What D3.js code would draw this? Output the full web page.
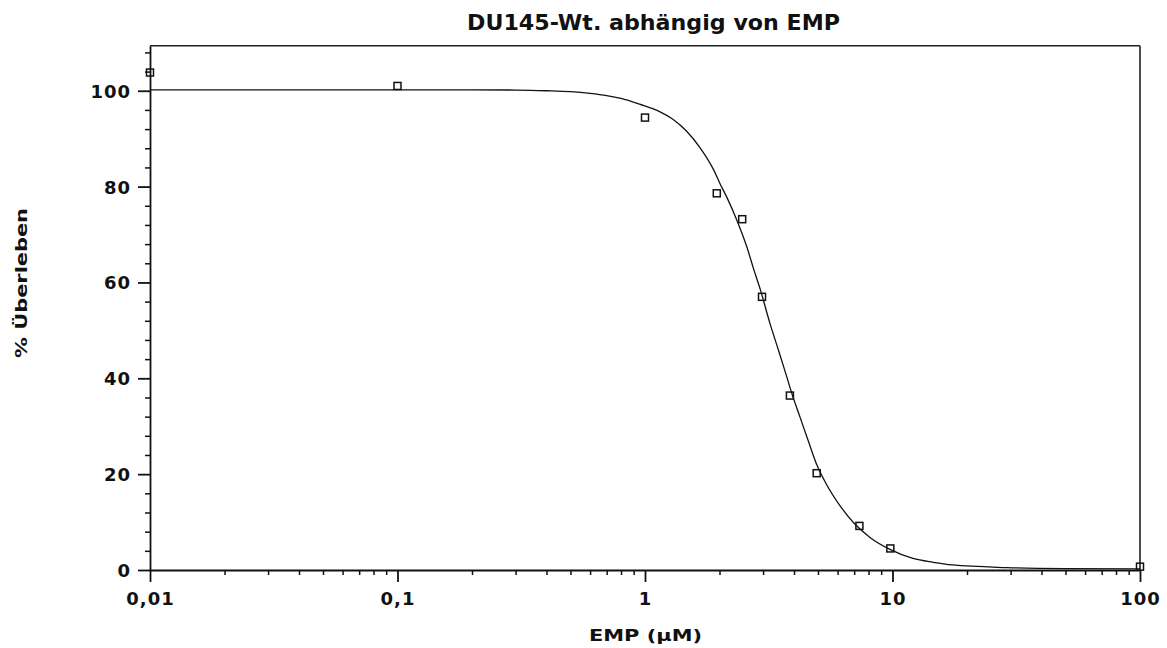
<!DOCTYPE html>
<html><head><meta charset="utf-8">
<script src="https://cdn.jsdelivr.net/npm/d3@7"></script>
<style>body{margin:0;background:#fff} svg{display:block}</style>
</head><body><svg id="c" width="1167" height="648"></svg>
<script>
const title = "DU145-Wt. abhängig von EMP";
const xLabel = "EMP (µM)";
const yLabel = "% Überleben";
const xTickValues = [0.01, 0.1, 1, 10, 100];
const xTickLabels = ["0,01", "0,1", "1", "10", "100"];
const yTickValues = [0, 20, 40, 60, 80, 100];
const yTickLabels = ["0", "20", "40", "60", "80", "100"];

// measured data points
const pointX = [0.01, 0.1, 1, 1.95, 2.47, 2.97, 3.85, 4.94, 7.35, 9.8, 100];
const pointY = [103.8, 101.0, 94.4, 78.6, 73.2, 57.0, 36.4, 20.2, 9.2, 4.5, 0.7];

// fitted curve
const curveX = [0.01, 0.1, 0.2, 0.3, 0.4, 0.5, 0.6, 0.7, 0.8, 0.95, 1.15, 1.3, 1.47, 1.67, 1.89, 2.01, 2.14, 2.35, 2.58, 2.74, 2.92, 3.2, 3.46, 3.74, 3.91, 4.23, 4.57, 4.94, 5.42, 6.14, 6.95, 8.11, 9.77, 12.1, 14.6, 17.5, 29, 50, 100];
const curveY = [100.2, 100.2, 100.2, 100.15, 100.0, 99.8, 99.45, 99.0, 98.4, 97.2, 95.6, 94.0, 91.6, 88.1, 83.6, 80.6, 77.8, 73.0, 67.4, 63.0, 58.6, 51.4, 45.9, 40.3, 37.0, 31.9, 26.9, 22.0, 17.8, 13.4, 9.9, 6.8, 4.3, 2.4, 1.6, 1.05, 0.5, 0.3, 0.25];

const svg = d3.select("#c");
const mLeft = 150, mRight = 1140, mTop = 45.7, mBottom = 570;
const x = d3.scaleLog().domain([0.01, 100]).range([mLeft, mRight]);
const y = d3.scaleLinear().domain([0, 109.4]).range([mBottom, mTop]);
const FONT = "'DejaVu Sans', sans-serif";

// minor ticks
const xMinor = [];
for (let d = 0.01; d < 100; d *= 10) for (let k = 2; k <= 9; k++) xMinor.push(+(d * k).toPrecision(3));
const yMinor = d3.range(0, 109, 4).filter(v => v % 20 !== 0);

const gxm = svg.append("g").attr("transform", `translate(0,${mBottom})`)
  .call(d3.axisBottom(x).tickValues(xMinor).tickSize(5).tickFormat(""));
const gym = svg.append("g").attr("transform", `translate(${mLeft},0)`)
  .call(d3.axisLeft(y).tickValues(yMinor).tickSize(5).tickFormat(""));
[gxm, gym].forEach(g => { g.select(".domain").remove(); g.selectAll("line").attr("stroke", "#111").attr("stroke-width", 1.5); });

const gx = svg.append("g").attr("transform", `translate(0,${mBottom})`)
  .call(d3.axisBottom(x).tickValues(xTickValues).tickSize(12).tickSizeOuter(0)
    .tickFormat((d, i) => xTickLabels[i]));
gx.selectAll("text").attr("y", 35).attr("dy", 0);
const gy = svg.append("g").attr("transform", `translate(${mLeft},0)`)
  .call(d3.axisLeft(y).tickValues(yTickValues).tickSize(12).tickSizeOuter(0).tickPadding(7)
    .tickFormat((d, i) => yTickLabels[i]));
gy.selectAll("text").attr("dy", "0.36em");
[gx, gy].forEach(g => {
  g.select(".domain").attr("stroke", "#111").attr("stroke-width", 1.8);
  g.selectAll("line").attr("stroke", "#111").attr("stroke-width", 1.8);
  g.selectAll("text").attr("fill", "#111").style("font-family", FONT)
    .style("font-weight", "bold").style("font-size", "18px").style("letter-spacing", "1px");
});

// frame top and right
svg.append("line").attr("x1", mLeft).attr("x2", mRight).attr("y1", mTop).attr("y2", mTop)
  .attr("stroke", "#222").attr("stroke-width", 1.6);
svg.append("line").attr("x1", mRight).attr("x2", mRight).attr("y1", mTop).attr("y2", mBottom)
  .attr("stroke", "#222").attr("stroke-width", 1.6);

// curve
const curveData = curveX.map((v, i) => [v, curveY[i]]);
svg.append("path").datum(curveData)
  .attr("d", d3.line().x(d => x(d[0])).y(d => y(d[1])).curve(d3.curveMonotoneX))
  .attr("fill", "none").attr("stroke", "#111").attr("stroke-width", 1.3);

// points
const pts = pointX.map((v, i) => [v, pointY[i]]);
svg.append("g").selectAll("rect").data(pts).join("rect")
  .attr("x", d => x(d[0]) - 3.5).attr("y", d => y(d[1]) - 3.5)
  .attr("width", 7).attr("height", 7)
  .attr("fill", "none").attr("stroke", "#111").attr("stroke-width", 1.5);

// labels
svg.append("text").attr("x", 653.5).attr("y", 30).attr("text-anchor", "middle")
  .attr("textLength", 373).attr("lengthAdjust", "spacingAndGlyphs")
  .style("font-family", FONT).style("font-weight", "bold").style("font-size", "20.5px").attr("fill", "#111")
  .text(title);
svg.append("text").attr("x", 645.5).attr("y", 640.7).attr("text-anchor", "middle")
  .attr("textLength", 113).attr("lengthAdjust", "spacingAndGlyphs")
  .style("font-family", FONT).style("font-weight", "bold").style("font-size", "16px").attr("fill", "#111")
  .text(xLabel);
svg.append("text").attr("transform", "translate(26.5,283) rotate(-90)").attr("text-anchor", "middle")
  .attr("textLength", 150).attr("lengthAdjust", "spacingAndGlyphs")
  .style("font-family", FONT).style("font-weight", "bold").style("font-size", "16px").attr("fill", "#111")
  .text(yLabel);
</script></body></html>
